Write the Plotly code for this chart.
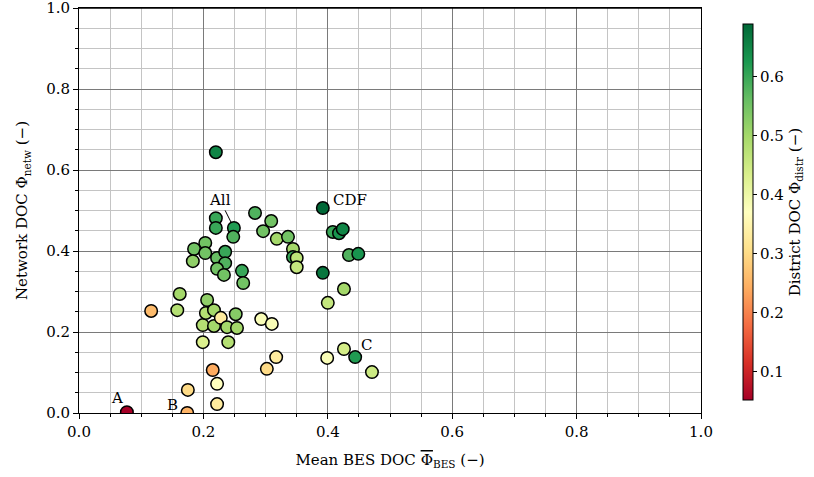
import plotly.graph_objects as go

# Mean building-energy-system degree of coupling (x), network DOC (y), district DOC (colour)
mean_bes_doc = [
    0.077, 0.174, 0.175, 0.222, 0.222, 0.215, 0.116, 0.158, 0.162, 0.199,
    0.206, 0.199, 0.217, 0.204, 0.217, 0.228, 0.238, 0.252, 0.254, 0.240,
    0.293, 0.310, 0.317, 0.302, 0.400, 0.426, 0.399, 0.426, 0.444, 0.471,
    0.220, 0.220, 0.220, 0.249, 0.248, 0.203, 0.185, 0.183, 0.203, 0.222,
    0.235, 0.235, 0.222, 0.233, 0.262, 0.264, 0.283, 0.309, 0.296, 0.318,
    0.336, 0.344, 0.344, 0.350, 0.350, 0.392, 0.392, 0.408, 0.418, 0.424,
    0.434, 0.449,
]
network_doc = [
    0.002, 0.000, 0.057, 0.022, 0.072, 0.106, 0.252, 0.254, 0.294, 0.175,
    0.279, 0.217, 0.215, 0.247, 0.254, 0.235, 0.212, 0.244, 0.210, 0.175,
    0.232, 0.220, 0.138, 0.109, 0.272, 0.306, 0.136, 0.158, 0.138, 0.101,
    0.644, 0.481, 0.457, 0.457, 0.435, 0.420, 0.405, 0.375, 0.395, 0.383,
    0.398, 0.370, 0.356, 0.341, 0.351, 0.321, 0.494, 0.474, 0.449, 0.430,
    0.435, 0.405, 0.385, 0.383, 0.360, 0.506, 0.346, 0.447, 0.444, 0.454,
    0.390, 0.393,
]
district_doc = [
    0.052, 0.25, 0.30, 0.33, 0.37, 0.24, 0.26, 0.48, 0.50, 0.43,
    0.52, 0.48, 0.50, 0.48, 0.50, 0.33, 0.50, 0.53, 0.50, 0.48,
    0.38, 0.38, 0.33, 0.30, 0.46, 0.50, 0.38, 0.44, 0.62, 0.45,
    0.65, 0.60, 0.60, 0.62, 0.58, 0.55, 0.55, 0.52, 0.55, 0.56,
    0.60, 0.58, 0.55, 0.55, 0.60, 0.55, 0.58, 0.55, 0.55, 0.50,
    0.55, 0.50, 0.60, 0.47, 0.46, 0.689, 0.67, 0.60, 0.63, 0.65,
    0.58, 0.63,
]

# Named scenarios: point index -> label
point_labels = {0: "A", 1: "B", 28: "C", 55: "CDF", 33: "All"}

axis_ticks = [0.0, 0.2, 0.4, 0.6, 0.8, 1.0]
cbar_ticks = [0.1, 0.2, 0.3, 0.4, 0.5, 0.6]

FONT = "DejaVu Serif"
fsize = 15

fig = go.Figure()
fig.add_trace(go.Scatter(
    x=mean_bes_doc, y=network_doc, mode="markers",
    marker=dict(
        size=12.5, color=district_doc, colorscale="RdYlGn",
        cmin=min(district_doc), cmax=max(district_doc),
        line=dict(color="black", width=1.5),
        colorbar=dict(
            x=(743 - 79) / 622, xanchor="left", xpad=0, ypad=0,
            y=0.496, yanchor="middle", len=376 / 405, lenmode="fraction",
            thickness=10, thicknessmode="pixels",
            outlinecolor="black", outlinewidth=1,
            tickvals=cbar_ticks, ticktext=[f"{v:.1f}" for v in cbar_ticks],
            ticks="outside", ticklen=4, tickcolor="black",
            tickfont=dict(family=FONT, size=fsize, color="black"),
            title=dict(text="District DOC Φ<sub>distr</sub> (−)", side="right",
                       font=dict(family=FONT, size=fsize, color="black")),
        ),
    ),
    hoverinfo="skip", showlegend=False,
))

# Label offsets in pixels relative to their points
offsets = {"A": (-10, 14), "B": (-15, 8), "C": (11, 12)}
for idx, text in point_labels.items():
    px, py = mean_bes_doc[idx], network_doc[idx]
    if text in offsets:
        dx, dy = offsets[text]
        fig.add_annotation(x=px, y=py, text=text, showarrow=False,
                           xshift=dx, yshift=dy,
                           font=dict(family=FONT, size=fsize, color="black"))
    elif text == "CDF":
        fig.add_annotation(x=px, y=py, text=text, showarrow=False,
                           xanchor="left", xshift=8, yshift=8,
                           font=dict(family=FONT, size=fsize, color="black"))
    else:
        fig.add_annotation(x=px, y=py, text=text, showarrow=True,
                           arrowhead=0, arrowwidth=1, arrowcolor="black",
                           ax=-14, ay=-28, standoff=6,
                           font=dict(family=FONT, size=fsize, color="black"))

axis_common = dict(
    tickvals=axis_ticks, ticktext=[f"{v:.1f}" for v in axis_ticks],
    ticks="outside", ticklen=5, tickwidth=1, tickcolor="black",
    ticklabeloverflow="allow", automargin=False,
    showline=True, linecolor="black", linewidth=1, mirror=True,
    showgrid=True, gridcolor="#7a7a7a", gridwidth=1.3,
    zeroline=False,
    tickfont=dict(family=FONT, size=fsize, color="black"),
    minor=dict(dtick=0.05, tick0=0, ticks="outside", ticklen=3, tickcolor="black",
               showgrid=True, gridcolor="#c4c4c4", gridwidth=1),
)

bes_title = ("Mean BES DOC <span style='text-decoration:overline'>Φ</span>"
             "<sub>BES</sub> (−)")
fig.update_xaxes(**axis_common, range=[0, 1],
                 title=dict(text=bes_title, standoff=14,
                            font=dict(family=FONT, size=fsize, color="black")))
fig.update_yaxes(**axis_common, range=[0, 1],
                 title=dict(text="Network DOC Φ<sub>netw</sub> (−)", standoff=14,
                            font=dict(family=FONT, size=fsize, color="black")))

# Top edge of the frame
fig.add_shape(type="line", xref="paper", yref="paper", x0=0, y0=1, x1=1, y1=1,
              line=dict(color="black", width=1.5), layer="above")

fig.update_layout(
    width=814, height=477,
    margin=dict(l=79, r=113, t=8, b=64, autoexpand=False),
    plot_bgcolor="white", paper_bgcolor="white",
)

fig.write_html("out.html")
